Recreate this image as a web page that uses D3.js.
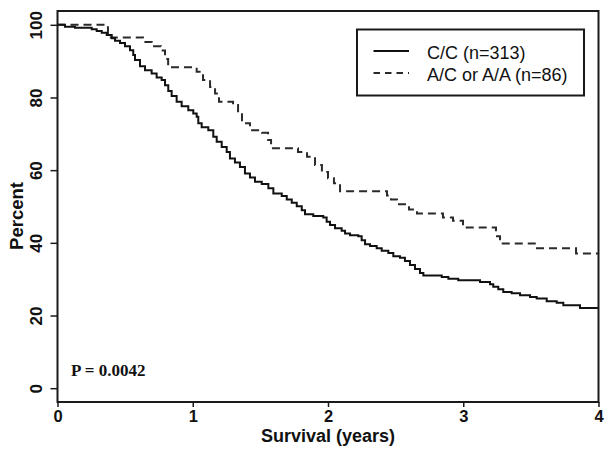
<!DOCTYPE html>
<html>
<head>
<meta charset="utf-8">
<script src="https://cdn.jsdelivr.net/npm/d3@7"></script>
<style>
  body { margin: 0; background: #fff; }
  svg { display: block; }
</style>
</head>
<body>
<svg class="km_svg"></svg>
<script>
// C/C (n=313) Kaplan-Meier steps: time in years, percent surviving after the step
const ccTimes = [0, 0.055, 0.129, 0.253, 0.290, 0.327, 0.364, 0.401, 0.425, 0.462, 0.499, 0.536, 0.560, 0.573,
  0.610, 0.647, 0.696, 0.733, 0.770, 0.795, 0.819, 0.844, 0.881, 0.918, 0.967, 1.004, 1.029, 1.041, 1.066,
  1.115, 1.152, 1.177, 1.214, 1.251, 1.275, 1.312, 1.349, 1.386, 1.423, 1.460, 1.510, 1.559, 1.596, 1.658,
  1.695, 1.732, 1.769, 1.806, 1.830, 1.891, 1.965, 1.990, 2.015, 2.052, 2.101, 2.126, 2.163, 2.224, 2.249,
  2.274, 2.311, 2.360, 2.397, 2.446, 2.483, 2.532, 2.569, 2.606, 2.643, 2.680, 2.705, 2.841, 2.890, 2.963,
  3.124, 3.198, 3.222, 3.259, 3.296, 3.358, 3.420, 3.494, 3.543, 3.617, 3.691, 3.740, 3.863, 4.0]
const ccPercent = [100, 99.5, 99.2, 98.8, 98.3, 97.8, 97.2, 96.3, 95.6, 95.0, 94.1, 93.0, 91.7, 90.3,
  88.6, 87.5, 86.6, 85.5, 84.8, 83.4, 81.8, 80.4, 78.8, 77.6, 76.5, 75.6, 74.7, 72.9, 71.8,
  71.0, 69.2, 67.8, 66.4, 65.0, 63.2, 62.1, 60.9, 59.1, 58.0, 56.8, 56.2, 55.0, 53.6, 52.9,
  51.9, 51.0, 50.1, 49.0, 47.9, 47.4, 47.0, 45.8, 44.9, 44.0, 43.3, 42.6, 42.1, 41.8, 40.7,
  39.6, 39.1, 38.5, 37.8, 37.2, 36.3, 35.9, 35.0, 33.9, 32.8, 31.7, 31.0, 30.6, 30.1, 29.7,
  29.2, 28.6, 27.9, 27.2, 26.5, 26.1, 25.6, 25.1, 24.7, 23.9, 23.5, 22.8, 22.1, 22.1]

// A/C or A/A (n=86)
const acTimes = [0, 0.373, 0.632, 0.697, 0.765, 0.795, 0.818, 1.029, 1.076, 1.128, 1.165, 1.194, 1.298,
  1.335, 1.364, 1.423, 1.512, 1.557, 1.579, 1.778, 1.845, 1.904, 1.955, 2.000, 2.044, 2.089, 2.436,
  2.466, 2.510, 2.599, 2.658, 2.850, 2.924, 2.998, 3.242, 3.272, 3.545, 3.834, 4.0]
const acPercent = [100, 96.5, 95.3, 94.1, 92.9, 90.6, 88.3, 87.1, 84.8, 82.9, 81.1, 78.8, 77.9,
  75.7, 72.9, 71.0, 70.3, 68.3, 66.0, 65.0, 63.7, 61.4, 59.5, 57.8, 56.4, 54.2, 53.0,
  51.9, 50.6, 49.2, 48.1, 47.0, 46.1, 44.2, 41.8, 39.8, 38.5, 37.1, 37.1]

const seriesNames = ["C/C (n=313)", "A/C or A/A (n=86)"]
const xTicks = [0, 1, 2, 3, 4]
const yTicks = [0, 20, 40, 60, 80, 100]

const W = 612, H = 454
const margin = { top: 11, right: 13.5, bottom: 52, left: 57.5 },
  w = W - margin.left - margin.right,
  h = H - margin.top - margin.bottom

const svg = d3.select(".km_svg").attr("width", W).attr("height", H)
const g = svg.append("g").attr("transform", `translate(${margin.left}, ${margin.top})`)

const x_scale = d3.scaleLinear().domain([0, 4]).range([0, w])
const y_scale = d3.scaleLinear().domain([-3.8, 103.8]).range([h, 0])

const sans = "'Liberation Sans', Arial, Helvetica, sans-serif"

// Curves
const line = d3.line()
  .x(d => x_scale(d[0]))
  .y(d => y_scale(d[1]))
  .curve(d3.curveStepAfter)

const ccData = ccTimes.map((t, i) => [t, ccPercent[i]])
const acData = acTimes.map((t, i) => [t, acPercent[i]])

g.append("path").datum(acData)
  .attr("d", line)
  .attr("fill", "none")
  .attr("stroke", "#2a2a2a")
  .attr("stroke-width", 2)
  .attr("stroke-dasharray", "8,5")

g.append("path").datum(ccData)
  .attr("d", line)
  .attr("fill", "none")
  .attr("stroke", "#111")
  .attr("stroke-width", 2)

// Frame
g.append("rect")
  .attr("x", 0).attr("y", 0).attr("width", w).attr("height", h)
  .attr("fill", "none").attr("stroke", "#1a1a1a").attr("stroke-width", 2)

// X axis
const xAxis = g.append("g")
  .attr("transform", `translate(0, ${h})`)
  .call(d3.axisBottom(x_scale).tickValues(xTicks).tickSize(5).tickFormat(d3.format("d")))
xAxis.select(".domain").remove()
xAxis.selectAll("line").attr("stroke", "#1a1a1a").attr("stroke-width", 1.5)
xAxis.selectAll("text")
  .attr("y", 20).attr("dy", 0)
  .style("font-family", sans).style("font-size", "16.5px").style("font-weight", "bold").attr("fill", "#111")

// Y axis
const yAxis = g.append("g")
  .call(d3.axisLeft(y_scale).tickValues(yTicks).tickSize(7))
yAxis.select(".domain").remove()
yAxis.selectAll("line").attr("stroke", "#1a1a1a").attr("stroke-width", 1.5)
yAxis.selectAll("text")
  .attr("transform", "rotate(-90)")
  .attr("x", 0).attr("y", -16).attr("dy", 0)
  .attr("text-anchor", "middle")
  .style("font-family", sans).style("font-size", "17px").style("font-weight", "bold").attr("fill", "#111")

// Axis titles
svg.append("text")
  .attr("x", margin.left + w / 2).attr("y", 442)
  .attr("text-anchor", "middle")
  .style("font-family", sans).style("font-size", "18px").style("font-weight", "bold").attr("fill", "#111")
  .text("Survival (years)")

svg.append("text")
  .attr("transform", "translate(23, 216) rotate(-90)")
  .attr("text-anchor", "middle")
  .style("font-family", sans).style("font-size", "18.5px").style("font-weight", "bold").attr("fill", "#111")
  .text("Percent")

// P value
svg.append("text")
  .attr("x", 71).attr("y", 376)
  .style("font-family", "'Liberation Serif', 'Times New Roman', serif")
  .style("font-size", "17px").style("font-weight", "bold").attr("fill", "#111")
  .text("P = 0.0042")

// Legend
const legend = svg.append("g")
legend.append("rect")
  .attr("x", 357).attr("y", 29.5).attr("width", 227).attr("height", 66)
  .attr("fill", "#fff").attr("stroke", "#1a1a1a").attr("stroke-width", 2)

const legendStyles = [{ color: "#111", dash: null }, { color: "#2a2a2a", dash: "6.5,5" }]
seriesNames.forEach((name, i) => {
  const ly = 51 + i * 22
  legend.append("line")
    .attr("x1", 373.5).attr("x2", 409).attr("y1", ly).attr("y2", ly)
    .attr("stroke", legendStyles[i].color).attr("stroke-width", 2)
    .attr("stroke-dasharray", legendStyles[i].dash)
  legend.append("text")
    .attr("x", 427).attr("y", ly + 8)
    .style("font-family", sans).style("font-size", "18px").attr("fill", "#111")
    .text(name)
})
</script>
</body>
</html>
